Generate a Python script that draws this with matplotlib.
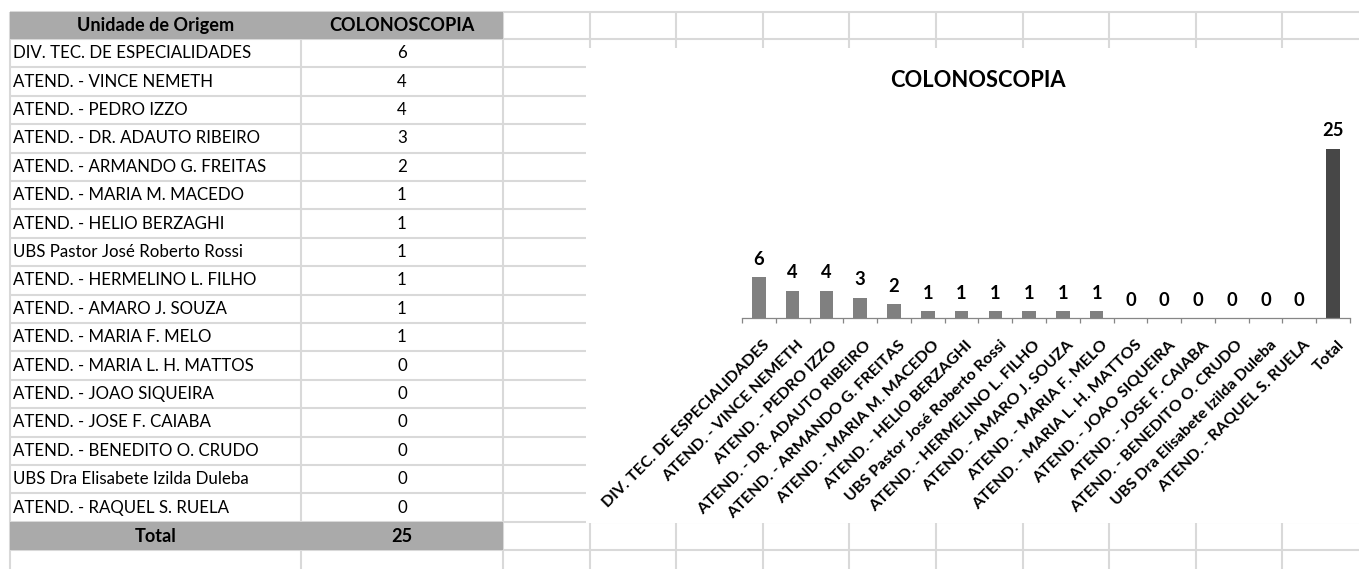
import numpy as np
import matplotlib
matplotlib.use('Agg')
import matplotlib.pyplot as plt
from matplotlib.patches import Rectangle
from matplotlib.transforms import ScaledTranslation

plt.rcParams['font.family'] = ['Lato', 'DejaVu Sans']

# data read from the sheet
unidades = ['DIV. TEC. DE ESPECIALIDADES', 'ATEND. - VINCE NEMETH', 'ATEND. - PEDRO IZZO',
            'ATEND. - DR. ADAUTO RIBEIRO', 'ATEND. - ARMANDO G. FREITAS', 'ATEND. - MARIA M. MACEDO',
            'ATEND. - HELIO BERZAGHI', 'UBS Pastor José Roberto Rossi', 'ATEND. - HERMELINO L. FILHO',
            'ATEND. - AMARO J. SOUZA', 'ATEND. - MARIA F. MELO', 'ATEND. - MARIA L. H. MATTOS',
            'ATEND. - JOAO SIQUEIRA', 'ATEND. - JOSE F. CAIABA', 'ATEND. - BENEDITO O. CRUDO',
            'UBS Dra Elisabete Izilda Duleba', 'ATEND. - RAQUEL S. RUELA']
colonoscopia = [6, 4, 4, 3, 2, 1, 1, 1, 1, 1, 1, 0, 0, 0, 0, 0, 0]
total = 25
header = ['Unidade de Origem', 'COLONOSCOPIA']
titulo = 'COLONOSCOPIA'

W, H = 1359, 569
fig = plt.figure(figsize=(W / 100, H / 100), dpi=100)
renderer = fig.canvas.get_renderer()


def fit(text, target, weight='normal'):
    # font size giving the text roughly the pixel width seen in the sheet
    t = fig.text(0, 0, text, fontsize=10, fontweight=weight)
    w = t.get_window_extent(renderer).width
    t.remove()
    return 10 * target / w


fs_body = fit(unidades[0], 237)
fs_head = (fit(header[0], 169, 'bold') + fit(header[1], 135, 'bold')) / 2
fs_title = fit(titulo, 174, 'bold')
fs_tick = fit(unidades[0], 230, 'bold')
fs_lab = fit('25', 19, 'bold') * 1.12

# spreadsheet background in pixel coordinates
bg = fig.add_axes([0, 0, 1, 1])
bg.set_xlim(0, W)
bg.set_ylim(H, 0)
bg.axis('off')

grid_c = '#d9d9d9'
top, head_h, row_h = 12, 27, 28.4
row_y = [top, top + head_h] + [top + head_h + row_h * (i + 1) for i in range(len(unidades) + 2)]
col_x = [10, 301, 503] + [503 + 86.6 * (i + 1) for i in range(10)]

for y in row_y:
    bg.hlines(y, 10, W, color=grid_c, lw=1.5, zorder=1)
for x in col_x:
    bg.vlines(x, top, H, color=grid_c, lw=1.5, zorder=1)

# chart area hides the grid
bg.add_patch(Rectangle((586, 48), 800, 475, facecolor='white', edgecolor='none', zorder=2))

gray = '#aaaaaa'
bg.add_patch(Rectangle((10, row_y[0]), 493, head_h, facecolor=gray, edgecolor='none', zorder=3))
tot_y = row_y[len(unidades) + 1]
bg.add_patch(Rectangle((10, tot_y), 493, row_h, facecolor=gray, edgecolor='none', zorder=3))

c1, c2 = (10 + 301) / 2, (301 + 503) / 2
bg.text(c1, top + head_h / 2, header[0], ha='center', va='center', fontsize=fs_head,
        fontweight='bold', zorder=4)
bg.text(c2, top + head_h / 2, header[1], ha='center', va='center', fontsize=fs_head,
        fontweight='bold', zorder=4)
for i, (u, v) in enumerate(zip(unidades, colonoscopia)):
    yc = row_y[i + 1] + row_h / 2
    bg.text(13, yc, u, ha='left', va='center', fontsize=fs_body, zorder=4)
    bg.text(c2, yc, str(v), ha='center', va='center', fontsize=fs_body, zorder=4)
bg.text(c1, tot_y + row_h / 2, 'Total', ha='center', va='center', fontsize=fs_head,
        fontweight='bold', zorder=4)
bg.text(c2, tot_y + row_h / 2, str(total), ha='center', va='center', fontsize=fs_head,
        fontweight='bold', zorder=4)

bg.text(978, 80, titulo, ha='center', va='center', fontsize=fs_title, fontweight='bold', zorder=4)

# bar chart
cats = unidades + ['Total']
vals = colonoscopia + [total]
colors = ['#808080'] * len(unidades) + ['#474747']
x = np.arange(len(cats))

x0, x1, yb, yt = 742, 1350, 318, 149
ax = fig.add_axes([x0 / W, (H - yb) / H, (x1 - x0) / W, (yb - yt) / H])
ax.patch.set_alpha(0)
ax.bar(x, vals, width=0.4, color=colors)
ax.set_xlim(-0.5, len(cats) - 0.5)
ax.set_ylim(0, total)
for s in ['left', 'right', 'top']:
    ax.spines[s].set_visible(False)
ax.spines['bottom'].set_color('#868686')
ax.spines['bottom'].set_linewidth(0.9)
ax.set_yticks([])
ax.set_xticks(x)
ax.set_xticklabels(cats, rotation=45, ha='right', va='center', rotation_mode='anchor',
                   fontweight='bold', fontsize=fs_tick)
ax.set_xticks(np.arange(-0.5, len(cats), 1), minor=True)
ax.tick_params(axis='x', which='major', length=0, pad=18)
ax.tick_params(axis='x', which='minor', length=3.6, width=0.9, color='#868686')
shift = ScaledTranslation(0.09, 0, fig.dpi_scale_trans)
for lbl in ax.get_xticklabels():
    lbl.set_transform(lbl.get_transform() + shift)

for xi, v in zip(x, vals):
    ax.annotate(str(v), (xi, v), xytext=(0, 18), textcoords='offset pixels',
                ha='center', va='center', fontweight='bold', fontsize=fs_lab,
                annotation_clip=False)

fig.savefig('out.png', dpi=100)
